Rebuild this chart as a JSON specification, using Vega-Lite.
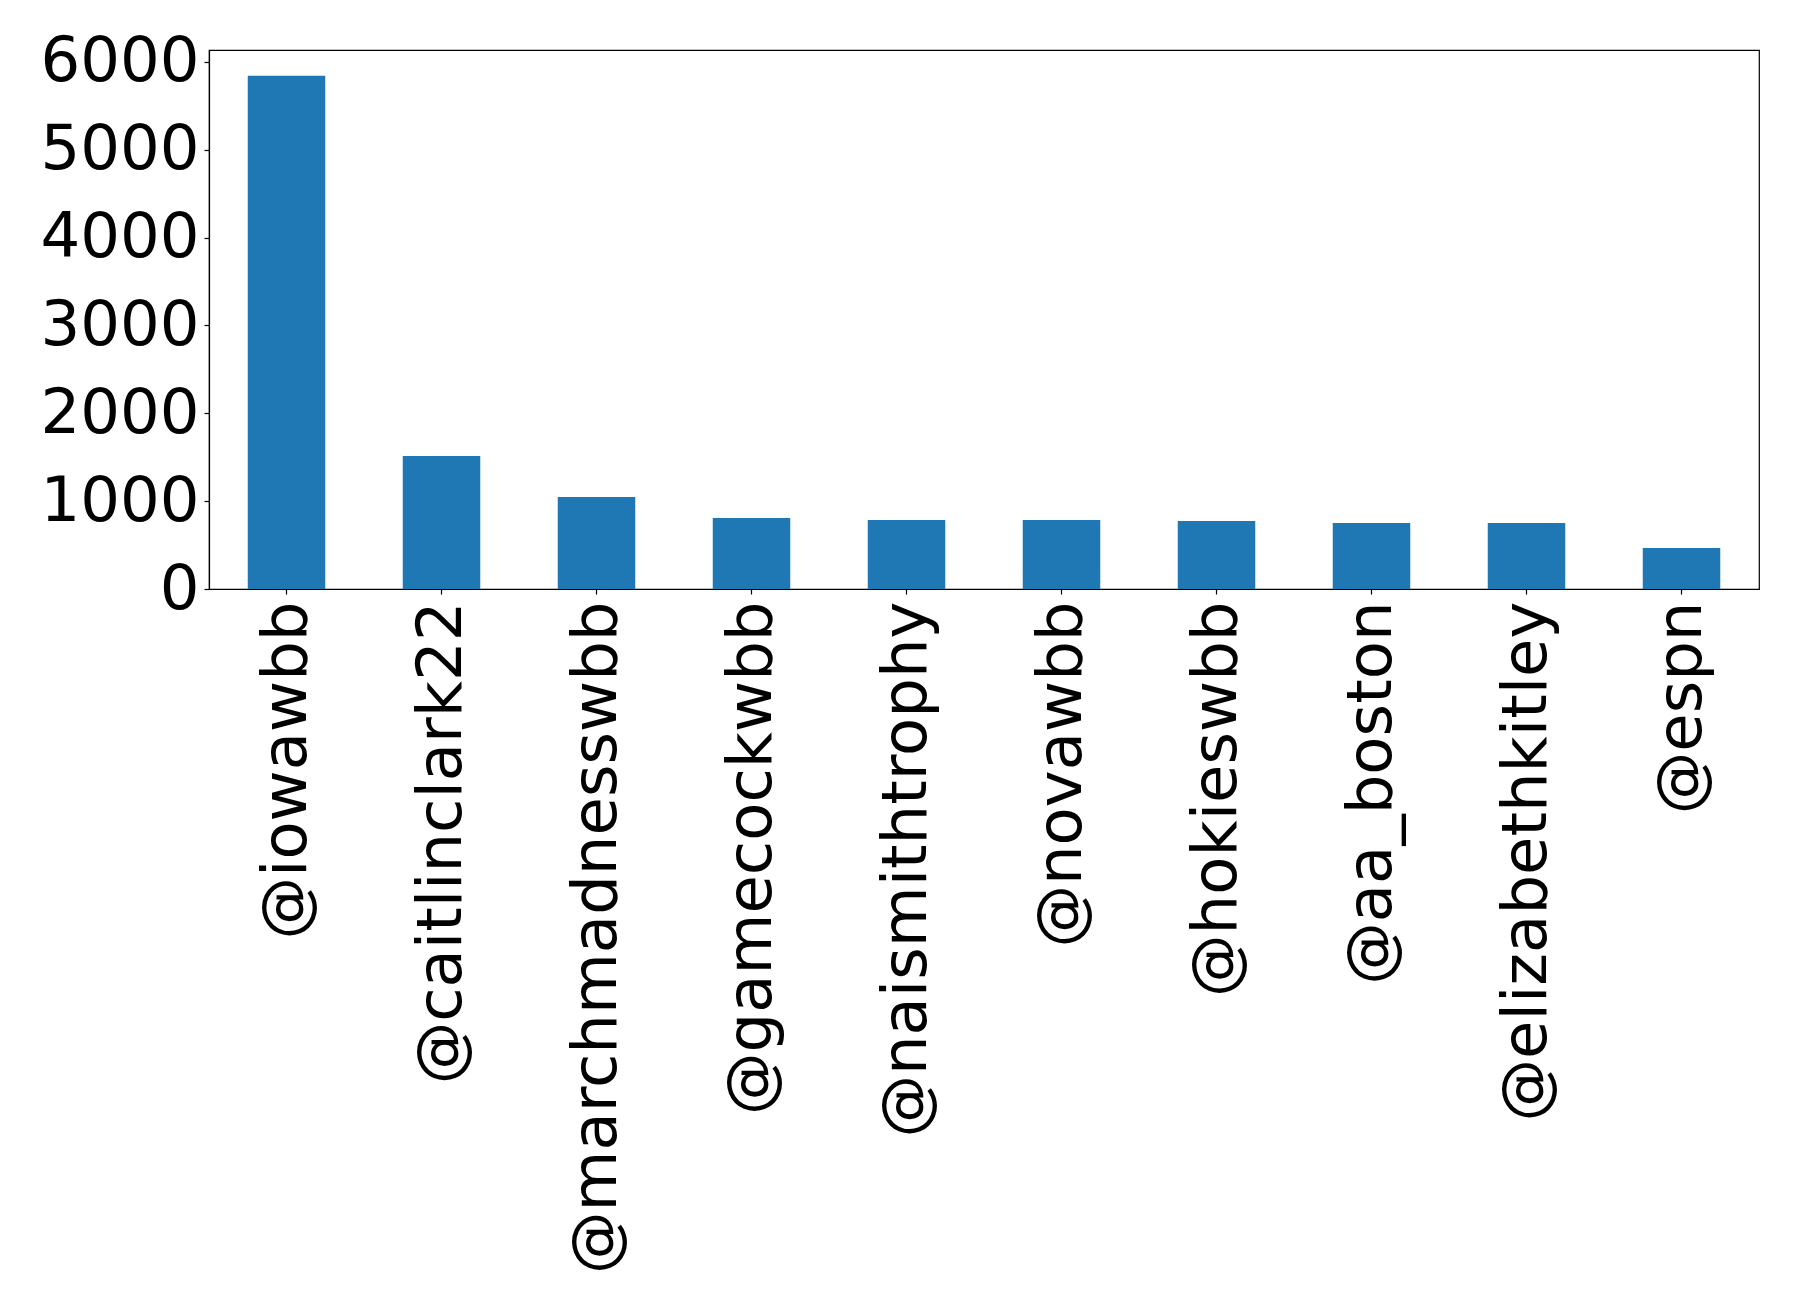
{
  "$schema": "https://vega.github.io/schema/vega-lite/v6.json",
  "width": 1550,
  "height": 539,
  "autosize": "none",
  "padding": {"left": 209, "top": 50, "right": 39, "bottom": 723},
  "background": "white",
  "config": {
    "view": {"stroke": "black", "strokeWidth": 1.2},
    "font": "DejaVu Sans"
  },
  "data": {
    "values": [
      {"user": "@iowawbb", "count": 5844},
      {"user": "@caitlinclark22", "count": 1514},
      {"user": "@marchmadnesswbb", "count": 1047},
      {"user": "@gamecockwbb", "count": 808},
      {"user": "@naismithtrophy", "count": 786},
      {"user": "@novawbb", "count": 786},
      {"user": "@hokieswbb", "count": 774},
      {"user": "@aa_boston", "count": 751},
      {"user": "@elizabethkitley", "count": 751},
      {"user": "@espn", "count": 467}
    ]
  },
  "mark": {"type": "bar", "color": "#1f77b4"},
  "encoding": {
    "x": {
      "field": "user",
      "type": "nominal",
      "sort": null,
      "title": null,
      "scale": {"paddingInner": 0.5, "paddingOuter": 0.25},
      "axis": {
        "labelAngle": -90,
        "labelAlign": "right",
        "labelBaseline": "middle",
        "labelFont": "DejaVu Sans",
        "labelFontSize": 62.5,
        "labelColor": "black",
        "labelPadding": 7,
        "tickSize": 5,
        "tickColor": "black",
        "tickWidth": 1.2,
        "domainColor": "black",
        "domainWidth": 1.2,
        "labelOverlap": false,
        "labelLimit": 0
      }
    },
    "y": {
      "field": "count",
      "type": "quantitative",
      "title": null,
      "scale": {"domain": [0, 6136], "nice": false},
      "axis": {
        "values": [0, 1000, 2000, 3000, 4000, 5000, 6000],
        "format": "d",
        "grid": false,
        "labelFont": "DejaVu Sans",
        "labelFontSize": 62.5,
        "labelColor": "black",
        "labelPadding": 5,
        "tickSize": 5,
        "tickColor": "black",
        "tickWidth": 1.2,
        "domainColor": "black",
        "domainWidth": 1.2,
        "labelFlush": false,
        "labelOverlap": false
      }
    }
  }
}
